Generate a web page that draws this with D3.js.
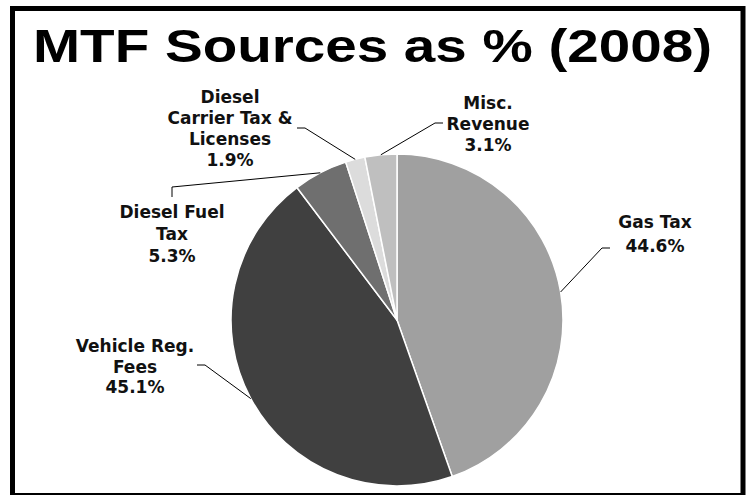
<!DOCTYPE html>
<html>
<head>
<meta charset="utf-8">
<script src="https://cdn.jsdelivr.net/npm/d3@7"></script>
<style>
  body { margin: 0; background: #fff; }
  svg { display: block; }
</style>
</head>
<body>
<svg id="chart" width="749" height="495"></svg>
<script>
// Data
const categories = ['Gas Tax', 'Vehicle Reg. Fees', 'Diesel Fuel Tax', 'Diesel Carrier Tax & Licenses', 'Misc. Revenue'];
const labelLines = [['Gas Tax'], ['Vehicle Reg.', 'Fees'], ['Diesel Fuel', 'Tax'], ['Diesel', 'Carrier Tax &', 'Licenses'], ['Misc.', 'Revenue']];
const values = [44.6, 45.1, 5.3, 1.9, 3.1];
const sliceColors = ['#a0a0a0', '#404040', '#6f6f6f', '#dcdcdc', '#bfbfbf'];

// Label layout (annotation positions)
const labelLayout = [
    { x: 655, y: 228, lh: 24, elbow: [[602, 248], [610, 248]] },
    { x: 135, y: 352, lh: 20.5, elbow: [[205, 365], [197, 365]] },
    { x: 172, y: 218, lh: 22, elbow: [[172, 187], [172, 197]] },
    { x: 230, y: 103, lh: 21, elbow: [[305, 128], [297, 128]] },
    { x: 488, y: 109, lh: 21, elbow: [[435, 123], [443, 123]] }
];

const cx = 397, cy = 320, radius = 166;

const svg = d3.select('#chart');

// frame
svg.append('rect')
    .attr('x', 12.5).attr('y', 8.5)
    .attr('width', 730.5).attr('height', 487)
    .attr('fill', 'none')
    .attr('stroke', '#000')
    .attr('stroke-width', 5);

// title
svg.append('text')
    .attr('x', 33).attr('y', 62)
    .attr('textLength', 679)
    .attr('lengthAdjust', 'spacingAndGlyphs')
    .style('font-family', '"Liberation Sans", Arial, sans-serif')
    .style('font-weight', 'bold')
    .style('font-size', '46px')
    .attr('fill', '#000')
    .text('MTF Sources as % (2008)');

const data = categories.map((c, i) => ({ name: c, lines: labelLines[i], value: values[i], color: sliceColors[i], layout: labelLayout[i] }));

const pie = d3.pie().sort(null).value(d => d.value);
const arc = d3.arc().innerRadius(0).outerRadius(radius);

const g = svg.append('g').attr('transform', `translate(${cx},${cy})`);
const arcs = pie(data);

g.selectAll('path')
    .data(arcs)
    .enter()
    .append('path')
    .attr('d', arc)
    .attr('fill', d => d.data.color)
    .attr('stroke', '#fff')
    .attr('stroke-width', 1.5)
    .attr('stroke-linejoin', 'round');

// leader lines from slice midpoints on the rim
arcs.forEach(d => {
    const mid = (d.startAngle + d.endAngle) / 2;
    const px = cx + radius * Math.sin(mid);
    const py = cy - radius * Math.cos(mid);
    const pts = [[px, py]].concat(d.data.layout.elbow);
    svg.append('path')
        .attr('d', d3.line()(pts))
        .attr('fill', 'none')
        .attr('stroke', '#000')
        .attr('stroke-width', 1);
});

// labels
arcs.forEach(d => {
    const L = d.data.layout;
    const t = svg.append('text')
        .attr('text-anchor', 'middle')
        .style('font-family', '"DejaVu Sans", Verdana, sans-serif')
        .style('font-weight', 'bold')
        .style('font-size', '17px')
        .attr('fill', '#111');
    const lines = d.data.lines.concat([d.data.value.toFixed(1) + '%']);
    lines.forEach((line, i) => {
        t.append('tspan')
            .attr('x', L.x)
            .attr('y', L.y + i * L.lh)
            .text(line);
    });
});
</script>
</body>
</html>
